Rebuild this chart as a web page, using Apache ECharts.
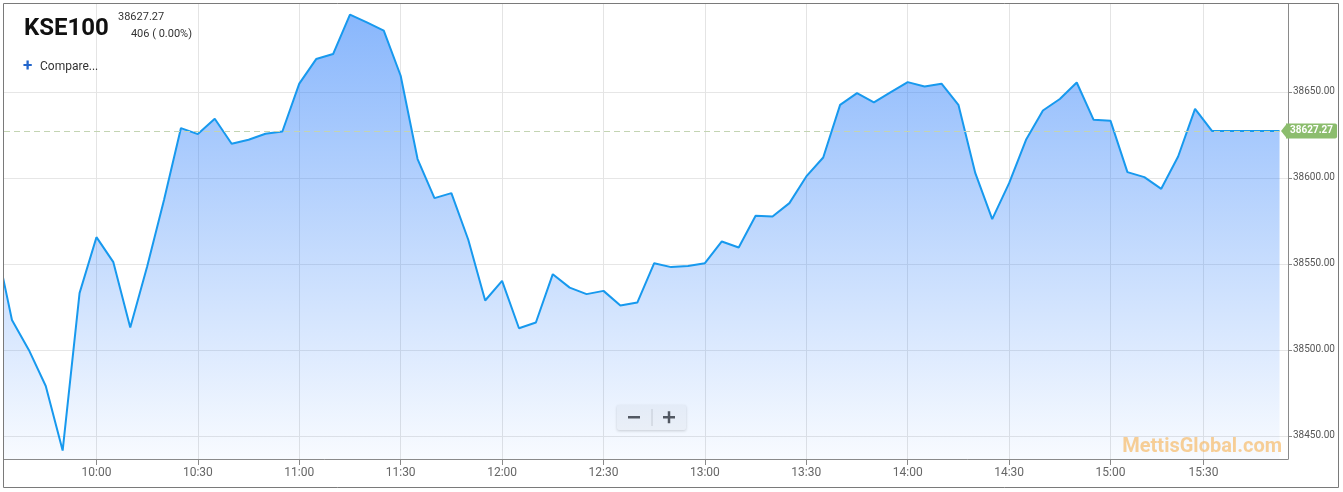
<!DOCTYPE html>
<html><head><meta charset="utf-8">
<script src="https://cdn.jsdelivr.net/npm/echarts@6/dist/echarts.min.js"></script>
<style>html,body{margin:0;padding:0;background:#fff}#c{width:1343px;height:492px}</style>
</head><body><div id="c"></div>
<script>
// ---- data (ordinal time axis: points are equally spaced) ----
const times = ['09:30','09:35','09:40','09:45','09:50','09:55','10:00','10:05','10:10','10:15','10:20','10:25',
  '10:30','10:35','10:40','10:45','10:50','10:55','11:00','11:05','11:10','11:15','11:20','11:25',
  '11:30','11:35','11:40','11:45','11:50','11:55','12:00','12:05','12:10','12:15','12:20','12:25',
  '12:30','12:35','12:40','12:45','12:50','12:55','13:00','13:05','13:10','13:15','13:20','13:25',
  '13:30','13:35','13:40','13:45','13:50','13:55','14:00','14:05','14:10','14:15','14:20','14:25',
  '14:30','14:35','14:40','14:45','14:50','14:55','15:00','15:05','15:10','15:15','15:20','15:25',
  '15:35','15:40','15:45','15:50','15:55'];
const values = [38564.0,38517.4,38500.0,38479.0,38441.5,38533.0,38565.5,38551.0,38513.0,38548.4,38587.2,38628.9,
  38625.4,38634.3,38619.8,38622.1,38625.6,38626.9,38654.7,38669.0,38671.9,38694.8,38690.3,38685.5,
  38659.3,38610.9,38588.2,38591.1,38564.0,38528.7,38540.1,38512.6,38515.9,38544.0,38536.2,38532.4,
  38534.3,38525.8,38527.5,38550.4,38548.1,38548.8,38550.4,38563.0,38559.5,38577.9,38577.5,38585.3,
  38600.8,38611.8,38642.4,38649.2,38643.8,38649.8,38655.6,38653.1,38654.7,38642.4,38602.7,38576.0,
  38596.9,38622.1,38639.1,38645.8,38655.4,38633.7,38633.1,38603.3,38600.4,38593.6,38612.4,38640.1,
  38627.27,38627.27,38627.27,38627.27,38627.27];
const xTickLabels = ['10:00','10:30','11:00','11:30','12:00','12:30','13:00','13:30','14:00','14:30','15:00','15:30'];
const yTickValues = [38450, 38500, 38550, 38600, 38650];
const symbolName = 'KSE100';
const lastValue = 38627.27;
const changeText = '406 ( 0.00%)';
const compareText = 'Compare...';
const watermarkText = 'MettisGlobal.com';

// ---- ordinal position of a time among the data times ----
function toMin(t){const p=t.split(':');return +p[0]*60 + +p[1];}
const mins = times.map(toMin);
function ordinalPos(t){
  const m = toMin(t);
  for (let i=0;i<mins.length;i++){
    if (mins[i]===m) return i;
    if (i<mins.length-1 && mins[i]<m && m<mins[i+1]) return i + (m-mins[i])/(mins[i+1]-mins[i]);
  }
  return null;
}
const xTickPos = xTickLabels.map(ordinalPos);
const seriesData = values.map((v,i)=>[i,v]);

const chart = echarts.init(document.getElementById('c'), null, {renderer:'canvas'});
const FONT = 'Roboto, "Noto Sans", sans-serif';
chart.setOption({
  animation:false,
  backgroundColor:'#fff',
  grid:{left:4, right:55, top:4, bottom:33, containLabel:false},
  xAxis:{
    type:'value', min:0.53, max:76.5,
    axisLine:{show:true, lineStyle:{color:'#8a8a8a', width:1}},
    axisTick:{show:true, customValues:xTickPos, length:6, lineStyle:{color:'#8a8a8a'}},
    axisLabel:{customValues:xTickPos, color:'#666', fontSize:12, fontFamily:FONT, margin:8,
      formatter:(v)=>{const k=xTickPos.findIndex(p=>Math.abs(p-v)<1e-6);return k>=0?xTickLabels[k]:'';}},
    splitLine:{show:true, lineStyle:{color:'#e4e4e4', width:1}}
  },
  yAxis:{
    type:'value', position:'right', min:38436.6, max:38701, scale:true,
    axisLine:{show:true, lineStyle:{color:'#8a8a8a', width:1}},
    axisTick:{show:true, customValues:yTickValues, length:4, lineStyle:{color:'#8a8a8a'}},
    axisLabel:{customValues:yTickValues, color:'#555', fontSize:10, fontFamily:FONT, margin:5,
      formatter:(v)=>v.toFixed(2)},
    splitLine:{show:true, lineStyle:{color:'#e6e6e6', width:1}}
  },
  series:[{
    type:'line', data:seriesData, symbol:'none', clip:true,
    lineStyle:{color:'#1799ee', width:2},
    areaStyle:{opacity:1, color:new echarts.graphic.LinearGradient(0,0,0,1,[
      {offset:0, color:'rgba(44,126,250,0.56)'},
      {offset:1, color:'rgba(44,126,250,0.03)'}])},
    markLine:{
      silent:true, symbol:'none', animation:false,
      lineStyle:{color:'#c3d4b2', type:[6,4], width:1},
      label:{show:true, position:'end', distance:-2, formatter:()=>lastValue.toFixed(2),
        color:'#fff', fontSize:10, fontWeight:'bold', fontFamily:FONT,
        backgroundColor:'#8cbd6e', padding:[3,4,2,4], borderRadius:[0,2,2,0]},
      data:[{yAxis:lastValue}]
    }
  }]
});

const yLast = chart.convertToPixel({yAxisIndex:0}, lastValue);
chart.setOption({
  graphic:[
    {type:'rect', shape:{x:3.5,y:3.5,width:1335,height:484}, style:{fill:'none', stroke:'#7a7a7a', lineWidth:1}, z:100, silent:true},
    {type:'polygon', shape:{points:[[1281,yLast],[1287,yLast-7.5],[1287,yLast+7.5]]}, style:{fill:'#8cbd6e'}, z:100},
    {type:'text', x:24, y:29, style:{text:symbolName, font:'bold 24px '+FONT, fill:'#111', verticalAlign:'middle'}, z:100},
    {type:'text', x:118, y:17, style:{text:lastValue.toFixed(2), font:'11px '+FONT, fill:'#333', verticalAlign:'middle'}, z:100},
    {type:'text', x:192, y:34, style:{text:changeText, font:'11px '+FONT, fill:'#333', align:'right', verticalAlign:'middle'}, z:100},
    {type:'text', x:23, y:67, style:{text:'+', font:'bold 17px '+FONT, fill:'#2266cc', verticalAlign:'middle'}, z:100},
    {type:'text', x:40, y:67, style:{text:compareText, font:'12px '+FONT, fill:'#333', verticalAlign:'middle'}, z:100},
    {type:'text', x:1282, y:447, style:{text:watermarkText, font:'bold 20px '+FONT, fill:'rgba(246,176,80,0.6)', align:'right', verticalAlign:'middle'}, z:100},
    {type:'group', x:617, y:405, z:100, children:[
      {type:'rect', shape:{x:0,y:0,width:69,height:25,r:2}, style:{fill:'#f7f7f7', shadowBlur:3, shadowColor:'rgba(0,0,0,0.18)', shadowOffsetY:1}},
      {type:'line', shape:{x1:35,y1:4,x2:35,y2:21}, style:{stroke:'#d0d0d0', lineWidth:1}},
      {type:'rect', shape:{x:11,y:11,width:12,height:2.5}, style:{fill:'#555'}},
      {type:'rect', shape:{x:46,y:11,width:12,height:2.5}, style:{fill:'#555'}},
      {type:'rect', shape:{x:50.75,y:6.25,width:2.5,height:12}, style:{fill:'#555'}}
    ]}
  ]
});
</script></body></html>
